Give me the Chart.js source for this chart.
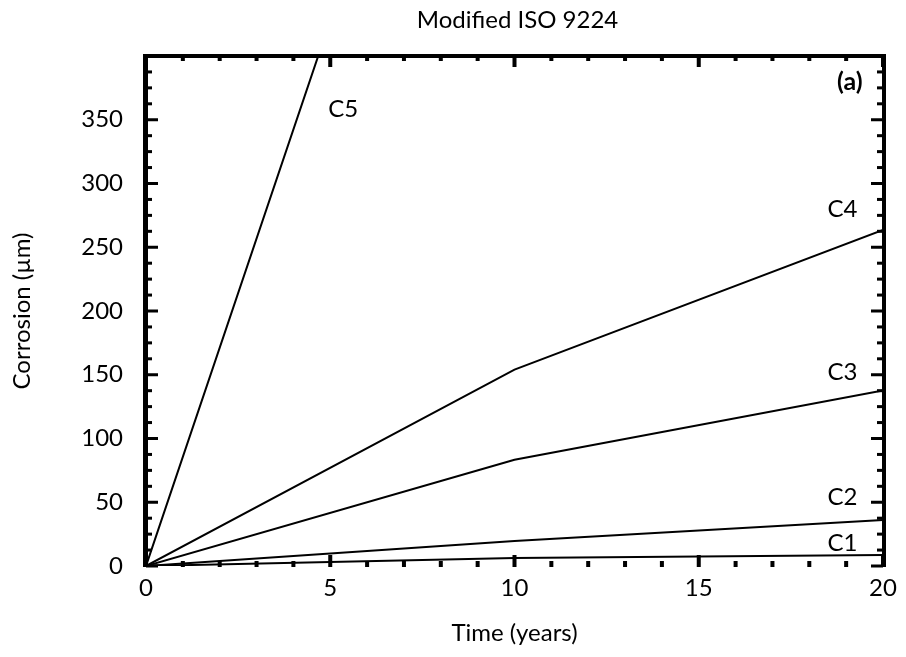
<!DOCTYPE html>
<html>
<head>
<meta charset="utf-8">
<style>
  html, body { margin: 0; padding: 0; background: #fff; }
  #wrap { width: 906px; height: 657px; }
</style>
<script src="https://cdn.jsdelivr.net/npm/chart.js@4/dist/chart.umd.min.js"></script>
</head>
<body>
<div id="wrap"><canvas id="myChart" width="906" height="657"></canvas></div>
<script>
// time in years, corrosion in micrometres
var years = [0, 10, 20];
var c1 = [0, 6.3, 8.7];
var c2 = [0, 19.7, 36];
var c3 = [0, 83.4, 137.7];
var c4 = [0, 154, 263.6];
var c5 = [0, 856, 1300];
var seriesNames = ["C1", "C2", "C3", "C4", "C5"];
// where each curve name sits, in data units
var labelX = [18.9, 18.9, 18.9, 18.9, 5.35];
var labelY = [18, 54, 152, 280, 358];
var xTicks = [0, 5, 10, 15, 20];
var yTicks = [0, 50, 100, 150, 200, 250, 300, 350];

var FONT = "Lato, 'Open Sans', sans-serif";

function pts(ys) {
  return years.map(function (x, i) { return { x: x, y: ys[i] }; });
}

// inward tick marks, borders, curve names and the panel letter
var decorations = {
  id: "decorations",
  afterDatasetsDraw: function (chart) {
    var c = chart.ctx;
    var a = chart.chartArea;
    var xs = chart.scales.x;
    var ys = chart.scales.y;
    c.save();
    c.fillStyle = "#000";
    // x ticks (bottom and top), minor every 1 year
    for (var t = 0; t <= 20; t++) {
      var px = xs.getPixelForValue(t);
      var major = t % 5 === 0;
      var len = major ? 11 : 5;
      c.fillRect(px - 2, a.bottom - len, 4, len + 1);
      c.fillRect(px - 2, a.top, 4, len);
    }
    // y ticks (left and right), minor every 12.5
    for (var v = 0; v <= 400; v += 12.5) {
      var py = ys.getPixelForValue(v);
      var maj = v % 50 === 0;
      var l = maj ? 12 : 6;
      c.fillRect(a.left, py - 1.5, l, 3);
      c.fillRect(a.right - l, py - 1.5, l, 3);
    }
    // borders: left, top, right
    c.fillRect(a.left - 3, a.top - 2, 5, a.bottom - a.top + 3);
    c.fillRect(a.left - 3, a.top - 2, a.right - a.left + 5, 4);
    c.fillRect(a.right - 1, a.top - 2, 4, a.bottom - a.top + 3);

    c.font = "24px " + FONT;
    c.textAlign = "center";
    c.textBaseline = "middle";
    seriesNames.forEach(function (n, i) {
      c.fillText(n, xs.getPixelForValue(labelX[i]), ys.getPixelForValue(labelY[i]));
    });
    c.font = "bold 25px " + FONT;
    c.fillText("(a)", xs.getPixelForValue(19.1), ys.getPixelForValue(380));
    c.font = "24px " + FONT;
    c.fillText("Modified ISO 9224", (a.left + a.right) / 2 + 3, 20);
    c.restore();
  }
};

function lineSet(name, ys) {
  return {
    label: name,
    data: pts(ys),
    borderColor: "#000",
    borderWidth: 2,
    pointRadius: 0,
    tension: 0,
    fill: false
  };
}

var ctx = document.getElementById("myChart");
var myChart = new Chart(ctx, {
  type: "line",
  data: {
    datasets: [
      lineSet("C1", c1),
      lineSet("C2", c2),
      lineSet("C3", c3),
      lineSet("C4", c4),
      lineSet("C5", c5)
    ]
  },
  options: {
    responsive: false,
    animation: false,
    layout: { padding: { top: 56, right: 23, left: 0, bottom: 0 } },
    plugins: {
      legend: { display: false },
      tooltip: { enabled: false }
    },
    scales: {
      x: {
        type: "linear",
        min: 0,
        max: 20,
        afterFit: function (s) { s.height = 91; },
        afterBuildTicks: function (s) {
          s.ticks = xTicks.map(function (v) { return { value: v }; });
        },
        grid: { display: false, drawTicks: false },
        border: { display: false },
        ticks: { color: "#000", font: { family: FONT, size: 24 }, padding: 8, maxRotation: 0 },
        title: {
          display: true,
          text: "Time (years)",
          color: "#000",
          font: { family: FONT, size: 24 },
          padding: { top: 0, bottom: 9 }
        }
      },
      y: {
        min: 0,
        max: 400,
        afterFit: function (s) { s.width = 146; },
        afterBuildTicks: function (s) {
          s.ticks = yTicks.map(function (v) { return { value: v }; });
        },
        grid: { display: false, drawTicks: false },
        border: { display: false },
        ticks: { color: "#000", font: { family: FONT, size: 24 }, padding: 23 },
        title: {
          display: true,
          text: "Corrosion (\u00b5m)",
          color: "#000",
          font: { family: FONT, size: 24 },
          padding: { top: 8, bottom: 0 }
        }
      }
    }
  },
  plugins: [decorations]
});
</script>
</body>
</html>
